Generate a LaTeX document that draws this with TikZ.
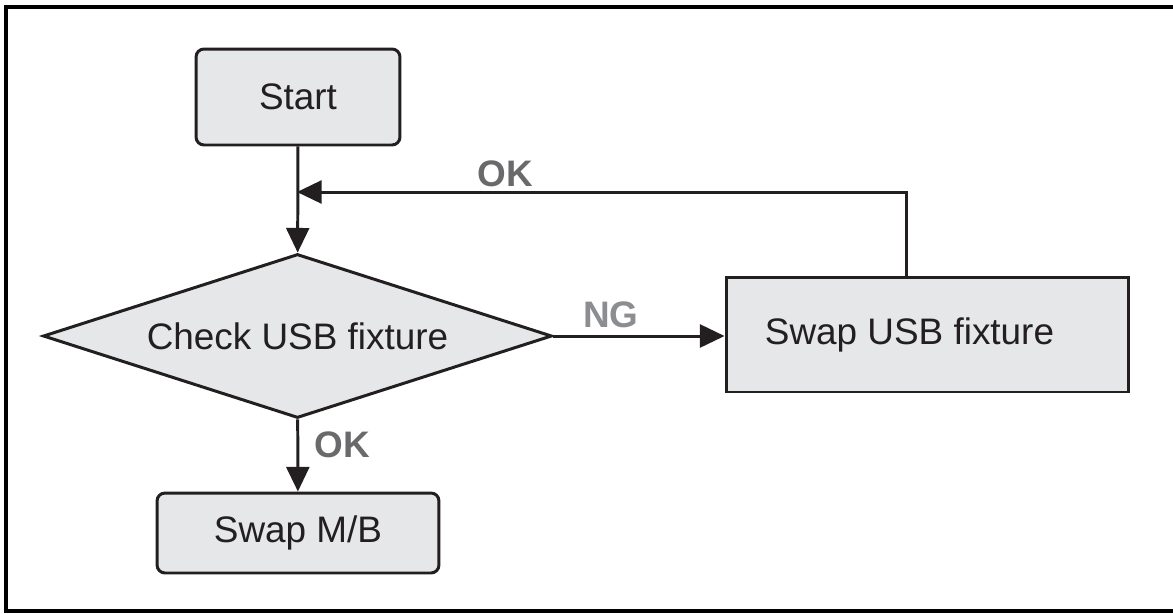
\documentclass[tikz,border=0pt]{standalone}
\usepackage{fontspec}
\setmainfont{Liberation Sans}
\usepackage{tikz}
\usetikzlibrary{arrows.meta, shapes.geometric, positioning}

\definecolor{boxfill}{HTML}{E6E7E8}
\definecolor{ink}{HTML}{231F20}
\definecolor{okgray}{HTML}{6A6A6C}
\definecolor{nggray}{HTML}{8C8D90}

\tikzset{
	flow/.style = {draw=ink, line width=1.7pt, -{Triangle[length=14pt, width=13pt]}},
	block/.style = {draw=ink, fill=boxfill, line width=1.7pt, inner sep=0pt, font=\fontsize{21}{25}\selectfont, text=ink},
	lbl/.style = {font=\fontsize{21}{25}\selectfont\bfseries, inner sep=0pt}
}

\begin{document}
\begin{tikzpicture}[x=0.02cm, y=-0.02cm]
		\useasboundingbox (0,0) rectangle (1173,613);
		% frame, open on the right
		\draw[black, line width=1.9pt] (1173,7) -- (6,7) -- (6,611) -- (1173,611);

		\node[block, rounded corners=0.16cm, minimum width=4.08cm, minimum height=1.92cm] (start) at (298,97) {Start};
		\node[block, diamond, aspect=3.1, minimum width=10.18cm, minimum height=3.28cm] (check) at (297.5,336) {Check USB fixture};
		% text sits a little left of the box centre
		\node[block, minimum width=8.06cm, minimum height=2.3cm] (swapusb) at (927.5,334.5) {\raisebox{-0.1cm}{Swap USB fixture}\hspace*{0.72cm}};
		\node[block, rounded corners=0.16cm, minimum width=5.64cm, minimum height=1.6cm] (swapmb) at (298,533) {Swap M/B};

		\coordinate (up) at (906,192);
		\coordinate (join) at (297,192);

		\draw[flow] (start) -- (check);
		\draw[flow] (check.east) -- (check.east -| swapusb.west);
		\draw[flow] (check) -- (swapmb);
		\draw[flow] (swapusb.north -| up) -- (up) -- (join);

		\node[lbl, text=nggray] (ng) at (611,315) {NG};
		\node[lbl, text=okgray] (okup) at (505,174) {OK};
		\node[lbl, text=okgray] (okdown) at (342,445) {OK};
\end{tikzpicture}
\end{document}
